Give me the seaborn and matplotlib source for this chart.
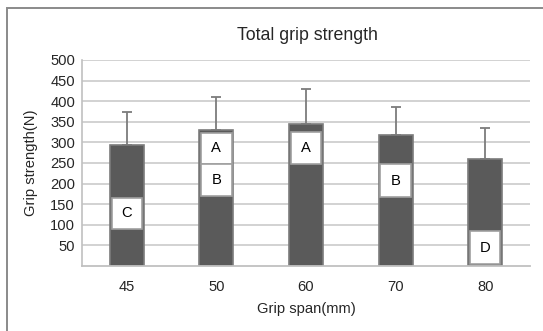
import numpy as np
import pandas as pd
import seaborn as sns
import matplotlib.pyplot as plt
from matplotlib.patches import Rectangle

# -----------------------------------------------------------------------------
# Data
# -----------------------------------------------------------------------------
spans = ["45", "50", "60", "70", "80"]
strength = [294, 331, 344, 318, 259]
sd_upper = [81, 79, 85, 67, 76]

# Letter groups drawn as white boxes on the bars
box_span = ["45", "50", "50", "60", "70", "80"]
box_low = [90, 248, 169, 248, 168, 5]
box_high = [165, 324, 248, 325, 247, 84]
box_letter = ["C", "A", "B", "A", "B", "D"]

yticks = [50, 100, 150, 200, 250, 300, 350, 400, 450, 500]

# -----------------------------------------------------------------------------
# Plotting attributes
# -----------------------------------------------------------------------------
sns.set_theme(style="white")
plt.rcParams["font.family"] = ["Liberation Sans", "DejaVu Sans"]

dark = "#5a5a5a"
edge = "#7c7c7c"
grid = "#cfcfcf"
fs = 10.6

df = pd.DataFrame({"span": spans, "strength": strength})

fig = plt.figure(figsize=(5.43, 3.31), dpi=100)
ax = fig.add_axes([82 / 543, 1 - 266 / 331, 448 / 543, 206 / 331])

# Outer chart frame
fig.patches.append(Rectangle((7 / 543, -0.2), 1.2, 1.2 - 8 / 331,
                             transform=fig.transFigure, fill=False,
                             edgecolor="#8a8a8a", linewidth=1.4))

for y in yticks:
    ax.axhline(y, color=grid, lw=1.3, zorder=0)

sns.barplot(data=df, x="span", y="strength", color=dark, width=0.38,
            edgecolor=edge, linewidth=1.2, saturation=1, errorbar=None,
            zorder=2, ax=ax)

x = np.arange(len(spans))
ax.errorbar(x, strength, yerr=[np.zeros(len(sd_upper)), sd_upper], fmt="none",
            ecolor="#7c7c7c", elinewidth=1.3, capsize=3.5, capthick=1.3, zorder=1)

bx = [spans.index(s) for s in box_span]
heights = [h - l for l, h in zip(box_low, box_high)]
ax.bar(bx, heights, bottom=box_low, width=0.34, color="white",
       edgecolor="#a0a0a0", linewidth=1.2, zorder=3)
for xi, l, h, t in zip(bx, box_low, box_high, box_letter):
    ax.text(xi, (l + h) / 2, t, ha="center", va="center", fontsize=fs,
            color="black", zorder=4)

ax.set_ylim(0, 500)
ax.set_xlim(-0.5, 4.5)
ax.set_yticks(yticks)
ax.tick_params(axis="y", length=3, color="#bbbbbb", labelsize=fs, pad=2)
ax.tick_params(axis="x", length=0, labelsize=fs, pad=10)
for s in ["top", "right"]:
    ax.spines[s].set_visible(False)
ax.spines["left"].set_color("#c0c0c0")
ax.spines["bottom"].set_color("#c0c0c0")
ax.spines["left"].set_linewidth(1.2)
ax.spines["bottom"].set_linewidth(1.3)

ax.set_xlabel("Grip span(mm)", fontsize=fs, labelpad=6)
ax.set_ylabel("Grip strength(N)", fontsize=fs, labelpad=9)
fig.text(307 / 543, 1 - 35 / 331, "Total grip strength", ha="center",
         va="center", fontsize=12.8)

plt.savefig("out.png", dpi=100)
